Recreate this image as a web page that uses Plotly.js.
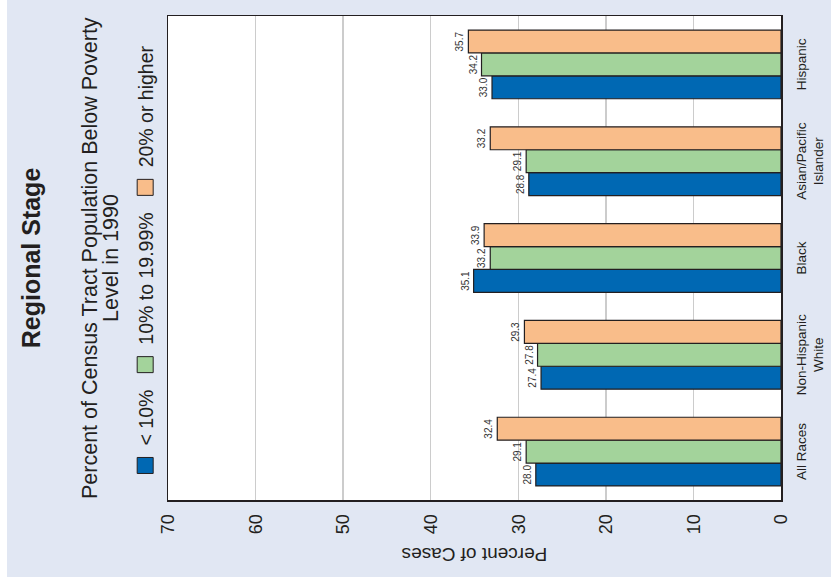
<!DOCTYPE html>
<html>
<head>
<meta charset="utf-8">
<script src="https://cdn.plot.ly/plotly-3.0.1.min.js"></script>
<style>
  html, body { margin: 0; padding: 0; background: #ffffff; overflow: hidden; width: 831px; height: 580px; }
  #bg { position: absolute; left: 7px; top: 0; width: 824px; height: 577px; background: #e1e7f3; }
  #chart { position: absolute; left: 0; top: 0; width: 580px; height: 831px;
           transform-origin: 0 0; transform: translateY(580px) rotate(-90deg); }
</style>
</head>
<body>
<div id="bg"></div>
<div id="chart"></div>
<script>
// ---- data ----
const categories = ["All Races", "Non-Hispanic<br>White", "Black", "Asian/Pacific<br>Islander", "Hispanic"];
const seriesNames = ["< 10%", "10% to 19.99%", "20% or higher"];
const lowPoverty  = [28.0, 27.4, 35.1, 28.8, 33.0];
const midPoverty  = [29.1, 27.8, 33.2, 29.1, 34.2];
const highPoverty = [32.4, 29.3, 33.9, 33.2, 35.7];
const valueTicks  = [0, 10, 20, 30, 40, 50, 60, 70];

// ---- styles ----
const colors = ["#0068b3", "#a3d39b", "#f9bd8a"];
const ink = "#231f20";
const font = "Arial, 'Liberation Sans', Helvetica, sans-serif";
const seriesValues = [lowPoverty, midPoverty, highPoverty];

const traces = [];
seriesValues.forEach((vals, i) => {
  traces.push({
    type: "bar",
    x: categories,
    y: vals,
    name: seriesNames[i],
    legendgroup: "g" + i,
    showlegend: false,
    marker: { color: colors[i], line: { color: ink, width: 1.2 } },
    text: vals.map(v => v.toFixed(1)),
    textposition: "outside",
    cliponaxis: false,
    textfont: { family: font, size: 10, color: "#333333" },
    hoverinfo: "skip"
  });
});
// legend entries (square swatches)
seriesValues.forEach((vals, i) => {
  traces.push({
    type: "scatter",
    mode: "markers",
    x: [null], y: [null],
    name: seriesNames[i],
    legendgroup: "g" + i,
    showlegend: true,
    marker: { symbol: "square", size: 16, color: colors[i], line: { color: ink, width: 1 } },
    hoverinfo: "skip"
  });
});

const layout = {
  width: 580, height: 831,
  margin: { l: 80, r: 16, t: 168, b: 50 },
  paper_bgcolor: "rgba(0,0,0,0)",
  plot_bgcolor: "#ffffff",
  font: { family: font, color: ink },
  barmode: "group",
  bargap: 0.29,
  bargroupgap: 0,
  showlegend: true,
  title: {
    text: "<b>Regional Stage</b>",
    font: { family: font, size: 25, color: ink },
    x: 0.5, xref: "paper",
    y: 1 - 31 / 831, yref: "container", yanchor: "middle"
  },
  legend: {
    orientation: "h",
    x: 0.03, xref: "paper", xanchor: "left",
    y: (781 - 145.5) / 613, yref: "paper", yanchor: "middle",
    font: { family: font, size: 19.5, color: ink },
    bgcolor: "rgba(0,0,0,0)",
    traceorder: "normal"
  },
  xaxis: {
    type: "category",
    showgrid: false,
    showline: true, mirror: true, linecolor: ink, linewidth: 1.5,
    ticks: "",
    ticklabelstandoff: 7,
    tickfont: { family: font, size: 13.5, color: ink },
    fixedrange: true
  },
  yaxis: {
    range: [0, 70],
    tickvals: valueTicks,
    ticktext: valueTicks.map(String),
    showgrid: true, gridcolor: "#cccccc", gridwidth: 1.5,
    zeroline: false,
    showline: true, mirror: true, linecolor: ink, linewidth: 1.5,
    ticks: "",
    ticklabelstandoff: 9,
    tickfont: { family: font, size: 18, color: ink },
    title: { text: "Percent of Cases", font: { family: font, size: 19, color: ink }, standoff: 8 },
    fixedrange: true
  },
  annotations: [
    { text: "Percent of Census Tract Population Below Poverty", xref: "paper", yref: "paper",
      x: 0.5, y: (781 - 90) / 613, xanchor: "center", yanchor: "middle", showarrow: false,
      font: { family: font, size: 21.5, color: ink } },
    { text: "Level in 1990", xref: "paper", yref: "paper",
      x: 0.5, y: (781 - 111) / 613, xanchor: "center", yanchor: "middle", showarrow: false,
      font: { family: font, size: 21.5, color: ink } }
  ]
};

Plotly.newPlot("chart", traces, layout, { displayModeBar: false, staticPlot: true });
</script>
</body>
</html>
